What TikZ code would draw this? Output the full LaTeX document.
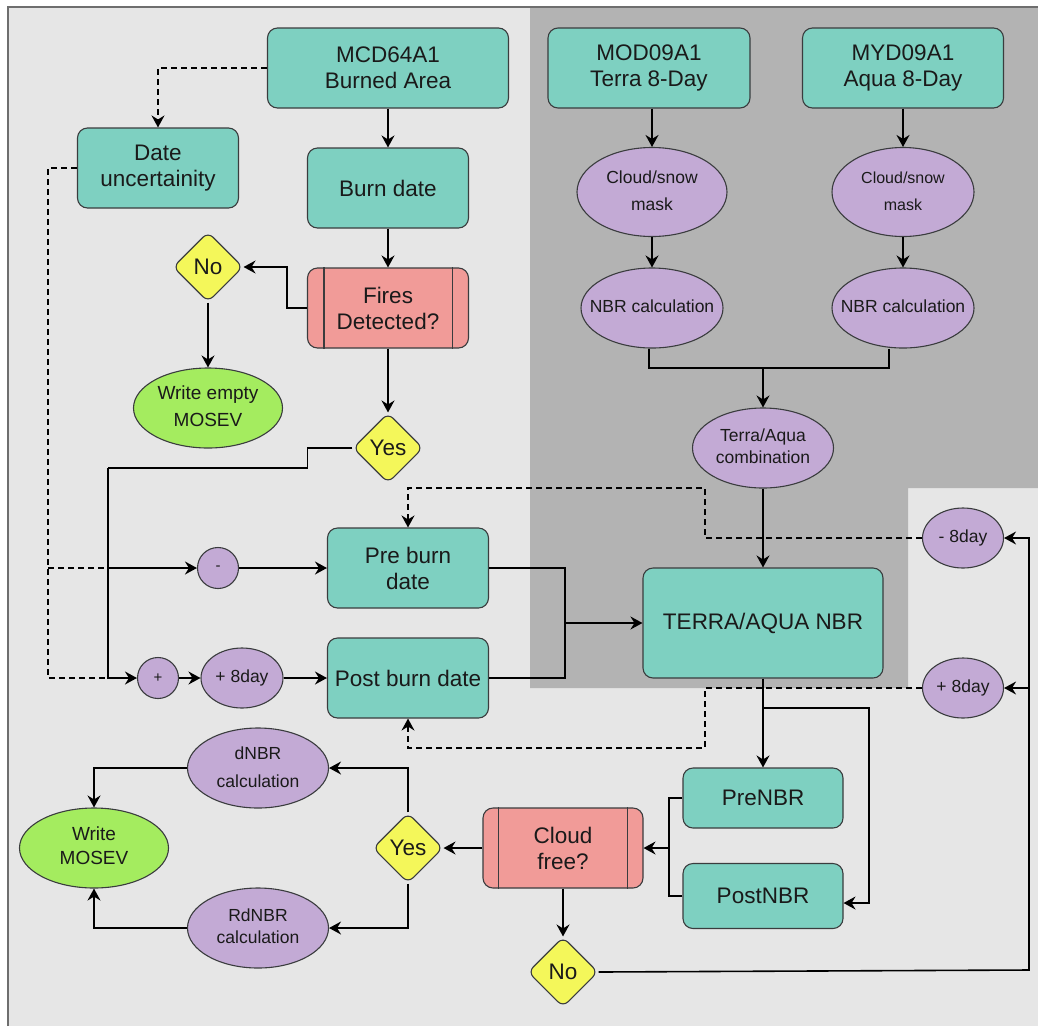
\documentclass[tikz,border=0pt]{standalone}
\usepackage{fontspec}
\setmainfont{Liberation Sans}
\usetikzlibrary{shapes.geometric,arrows.meta}
\definecolor{tealc}{RGB}{126,208,193}
\definecolor{purpc}{RGB}{195,170,213}
\definecolor{redc}{RGB}{241,155,152}
\definecolor{yelc}{RGB}{244,247,90}
\definecolor{greenc}{RGB}{164,236,95}
\definecolor{lightbg}{RGB}{230,230,230}
\definecolor{darkbg}{RGB}{179,179,179}
\definecolor{bord}{RGB}{58,60,62}
\definecolor{txt}{RGB}{26,26,26}
\definecolor{framec}{RGB}{110,110,110}
\newcommand\zw[1]{\makebox[0pt]{\begin{tabular}{@{}c@{}}#1\end{tabular}}}
\begin{document}
\begin{tikzpicture}[x=1pt,y=-1pt,
  >={Stealth[length=12pt,width=13pt,inset=4pt]},
  every node/.style={text=txt},
  base/.style={draw=bord, line width=1.1pt, inner sep=0pt, align=center},
  bigtxt/.style={font=\fontsize{22.5}{26}\selectfont},
  box/.style={base, bigtxt, fill=tealc, rounded corners=10pt},
  redbox/.style={base, bigtxt, fill=redc, rounded corners=10pt},
  ell/.style={base, ellipse, fill=purpc, font=\fontsize{17.5}{#1}\selectfont},
  ell/.default=23,
  gell/.style={base, ellipse, fill=greenc, font=\fontsize{19}{#1}\selectfont},
  gell/.default=25,
  dia/.style={base, bigtxt, diamond, fill=yelc, minimum width=70pt, minimum height=70pt, rounded corners=7pt},
  con/.style={line width=1.6pt, draw=black},
  dcon/.style={con, dash pattern=on 6pt off 4pt},
  sep/.style={draw=bord, line width=1.1pt}
]
\useasboundingbox (0,0) rectangle (1038,1026);
% background
\fill[white] (0,0) rectangle (1038,1026);
\fill[lightbg] (8,7) rectangle (1038,1026);
\fill[darkbg] (530,7) -- (1038,7) -- (1038,488) -- (908,488) -- (908,688) -- (530,688) -- cycle;
\draw[framec, line width=2pt] (8,1026) -- (8,7) -- (1038,7);

% nodes
\node[box, minimum width=241pt, minimum height=80pt] (mcd) at (388,68) {MCD64A1\\Burned Area};
\node[box, minimum width=161pt, minimum height=80pt] (du) at (158,168) {Date\\uncertainity};
\node[box, minimum width=161pt, minimum height=80pt] (bd) at (388,188) {Burn date};
\node[redbox, minimum width=161pt, minimum height=80pt] (fd) at (388,308) {Fires\\Detected?};
\node[dia] (no1) at (208,267) {No};
\node[gell=27, minimum width=149pt, minimum height=80pt] (wem) at (208,408) {\zw{Write empty\\MOSEV}};
\node[dia] (yes1) at (388,448) {Yes};

\node[box, minimum width=202pt, minimum height=80pt] (mod) at (649,68) {MOD09A1\\Terra 8-Day};
\node[box, minimum width=201pt, minimum height=80pt] (myd) at (903,68) {MYD09A1\\Aqua 8-Day};
\node[ell=27, minimum width=150pt, minimum height=89pt] (cs1) at (652,192) {\zw{Cloud/snow\\mask}};
\node[ell=27, minimum width=142pt, minimum height=89pt, font=\fontsize{16}{27}\selectfont] (cs2) at (903,192) {\zw{Cloud/snow\\mask}};
\node[ell, minimum width=142pt, minimum height=80pt] (nbr1) at (652,308) {\zw{NBR calculation}};
\node[ell, minimum width=142pt, minimum height=80pt] (nbr2) at (903,308) {\zw{NBR calculation}};
\node[ell=22, minimum width=141pt, minimum height=80pt] (tac) at (763,448) {\zw{Terra/Aqua\\combination}};
\node[box, minimum width=240pt, minimum height=110pt] (tanbr) at (763,623) {TERRA/AQUA NBR};
\node[ell, minimum width=81pt, minimum height=60pt] (m8) at (963,538) {\zw{- 8day}};
\node[ell, minimum width=81pt, minimum height=60pt] (p8r) at (963,688) {\zw{+ 8day}};

\node[box, minimum width=161pt, minimum height=80pt] (pre) at (408,568) {Pre burn\\date};
\node[box, minimum width=161pt, minimum height=80pt] (post) at (408,678) {Post burn date};
\node[ell, circle, minimum size=41pt, font=\fontsize{15}{16}\selectfont] (minus) at (218,568) {-};
\node[ell, circle, minimum size=41pt, font=\fontsize{15}{16}\selectfont] (plus) at (158,678) {+};
\node[ell, minimum width=82pt, minimum height=60pt] (p8l) at (242,678) {\zw{+ 8day}};

\node[box, minimum width=160pt, minimum height=60pt] (prenbr) at (763,798) {PreNBR};
\node[box, minimum width=160pt, minimum height=65pt] (postnbr) at (763,896) {PostNBR};
\node[redbox, minimum width=160pt, minimum height=80pt] (cf) at (563,848) {Cloud\\free?};
\node[dia] (no2) at (563,972) {No};
\node[dia] (yes2) at (408,848) {Yes};
\node[ell=28, minimum width=141pt, minimum height=80pt] (dnbr) at (258,768) {\zw{dNBR\\calculation}};
\node[ell=22, minimum width=141pt, minimum height=80pt] (rdnbr) at (258,928) {\zw{RdNBR\\calculation}};
\node[gell=24, minimum width=149pt, minimum height=80pt] (wm) at (94,848) {\zw{Write\\MOSEV}};

% double side lines of process boxes
\draw[sep] ([xshift=17pt]fd.north west) -- ([xshift=17pt]fd.south west);
\draw[sep] ([xshift=-17pt]fd.north east) -- ([xshift=-17pt]fd.south east);
\draw[sep] ([xshift=16pt]cf.north west) -- ([xshift=16pt]cf.south west);
\draw[sep] ([xshift=-16pt]cf.north east) -- ([xshift=-16pt]cf.south east);

% coordinates
\coordinate (jt) at (108,468);
\coordinate (jm) at (108,568);
\coordinate (dx) at (48,678);
\coordinate (jr) at (565,623);
\coordinate (mg) at (763,368);
\coordinate (dk1) at (705,488);
\coordinate (dk2) at (705,748);
\coordinate (br) at (763,708);
\coordinate (jl) at (669,848);
\coordinate (rr) at (1029,970);

% connectors, left column
\draw[dcon,->] (mcd.west) -| (du.north);
\draw[con,->] (mcd.south) -- (bd.north);
\draw[con,->] (bd.south) -- (fd.north);
\draw[con,->] (fd.west) -- ++(-20,0) |- (no1.east);
\draw[con,->] (no1.south) -- (wem.north);
\draw[con,->] (fd.south) -- (yes1.north);
\draw[con] (yes1.west) -- ++(-45,0) |- (jt);
\draw[con,->] (jt) |- (plus.west);
\draw[con,->] (jm) -- (minus.west);
\draw[dcon] (du.west) -| (dx) -- (jt |- plus.west);
\draw[dcon] (dx |- jm) -- (jm);
\draw[con,->] (minus.east) -- (pre.west);
\draw[con,->] (plus.east) -- (p8l.west);
\draw[con,->] (p8l.east) -- (post.west);
\draw[con] (pre.east) -| (jr);
\draw[con] (post.east) -| (jr);
\draw[con,->,line width=2.2pt] (jr) -- (tanbr.west);

% right column
\draw[con,->] (mod.south -| cs1.north) -- (cs1.north);
\draw[con,->] (myd.south -| cs2.north) -- (cs2.north);
\draw[con,->] (cs1.south) -- (nbr1.north);
\draw[con,->] (cs2.south) -- (nbr2.north);
\draw[con] ([xshift=-3pt]nbr1.south) |- (mg);
\draw[con] ([xshift=-14pt]nbr2.south) |- (mg);
\draw[con,->] (mg) -- (tac.north);
\draw[con,->] (tac.south) -- (tanbr.north);
\draw[dcon,->] (m8.west) -| (dk1) -| (pre.north);
\draw[dcon,->] (p8r.west) -| (dk2) -| (post.south);
\draw[con,->] (tanbr.south) -- (prenbr.north);
\draw[con,->] (br) -- ++(106,0) |- ([yshift=-7pt]postnbr.east);
\draw[con] (prenbr.west) -| (jl);
\draw[con] (postnbr.west) -| (jl);
\draw[con,->] (jl) -- (cf.east);
\draw[con,->] (cf.south) -- (no2.north);
\draw[con,->] (no2.east) -- (rr) |- (m8.east);
\draw[con,->] (rr |- p8r.east) -- (p8r.east);

% bottom left
\draw[con,->] (cf.west) -- (yes2.east);
\draw[con,->] (yes2.north) |- (dnbr.east);
\draw[con,->] (yes2.south) |- (rdnbr.east);
\draw[con,->] (dnbr.west) -| (wm.north);
\draw[con,->] (rdnbr.west) -| (wm.south);
\end{tikzpicture}
\end{document}
